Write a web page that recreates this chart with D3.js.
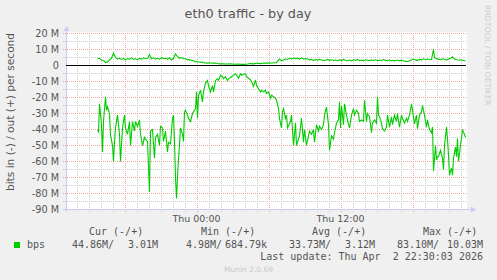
<!DOCTYPE html>
<html><head><meta charset="utf-8">
<script src="https://cdn.jsdelivr.net/npm/d3@7"></script>
<style>html,body{margin:0;padding:0;background:#F0F0F0;}svg{display:block;}</style>
</head><body>
<script>
// ---- DATA (values in Mbit/s; step = 5-minute sample index from window start) ----
const chartTitle = "eth0 traffic - by day";
const yAxisTitle = "bits in (-) / out (+) per second";
const windowStartUTC = Date.UTC(2026, 3, 1, 13, 10); // Wed 13:10
const windowSteps = 400; // 400 x 5 min
const yTicks = [20, 10, 0, -10, -20, -30, -40, -50, -60, -70, -80, -90];
const xLabelTimes = [Date.UTC(2026, 3, 2, 0, 0), Date.UTC(2026, 3, 2, 12, 0)];

const trafficIn = [
 [31,-40.4],[32,-41.5],[33,-24],[35,-37],[36,-54],[37,-35],[39,-19.6],[40,-28],[41,-25.8],[43,-30],
 [44,-43.5],[46,-50],[47,-60],[48,-48],[49,-39],[51,-31],[53,-43],[54,-60],[56,-39],[58,-31],
 [59,-39],[61,-43],[63,-35],[64,-50],[66,-35],[68,-41],[69,-35],[71,-38],[73,-34],[74,-43],
 [76,-50],[78,-45],[79,-46],[81,-47.5],[83,-79],[84,-41],[86,-40],[88,-58],[89,-45],[91,-43],
 [93,-50],[94,-38],[96,-39],[97,-47.5],[99,-41],[101,-54],[102,-48],[104,-49],[106,-33],[107,-31],
 [108,-47.5],[109,-70],[110,-83.1],[111,-70],[112,-58],[113,-50],[114,-39],[116,-43],[117,-47.5],[118,-29],
 [119,-28],[121,-31],[122,-33],[124,-35],[126,-30],[127,-29],[129,-27],[130,-16.5],[131,-33],[132,-19],
 [134,-15.4],[136,-22.7],[137,-16.5],[139,-11],[141,-9.4],[142,-12.5],[144,-16.5],[146,-12.5],[147,-16.5],[149,-9.4],
 [151,-8.3],[152,-9.4],[154,-6],[156,-7],[157,-8.3],[159,-7],[161,-9.4],[162,-8.3],[164,-7.5],[165,-7],
 [167,-6],[169,-4.98],[170,-6],[172,-8],[174,-5.2],[175,-6],[177,-5.5],[179,-5.1],[180,-7],[182,-8],
 [184,-9],[185,-10],[187,-13],[189,-9],[190,-12.5],[192,-14.5],[194,-16.5],[195,-15.5],[197,-16.5],[199,-15.5],
 [200,-17.5],[202,-16.5],[204,-20.6],[205,-18.5],[207,-19.5],[209,-20.6],[210,-21.5],[212,-27],[213,-33],[215,-39],
 [216,-29],[217,-27],[219,-33],[220,-31],[221,-39],[224,-35],[225,-31],[227,-50],[229,-36],[230,-50],
 [233,-44],[235,-33],[237,-48],[238,-40],[240,-50],[242,-44],[243,-41],[245,-43],[247,-40],[248,-48],
 [250,-37],[252,-41],[253,-38],[255,-40],[257,-37],[258,-31],[260,-26],[262,-37],[263,-53],[265,-44],
 [267,-46],[268,-42],[270,-36],[272,-34],[273,-22.7],[274,-39],[275,-25],[277,-37],[278,-24],[280,-31],
 [282,-37],[283,-39],[285,-31],[287,-27],[288,-31],[290,-28],[292,-30],[293,-35],[295,-34],[297,-35],
 [298,-21.7],[300,-35],[301,-30],[303,-32],[305,-42],[306,-36],[308,-34],[310,-36],[311,-19.6],[312,-31],
 [313,-32],[315,-36],[316,-39.5],[318,-41],[320,-38.5],[321,-31],[323,-38.5],[325,-32],[326,-37],[328,-31],
 [330,-35],[331,-30],[333,-38.5],[335,-31],[336,-33],[338,-36],[340,-33],[341,-35],[343,-31],[345,-24],
 [346,-28],[348,-36.5],[350,-31],[351,-39.5],[353,-31],[355,-29],[356,-25],[358,-31],[360,-38.5],[361,-34],
 [363,-40],[365,-42],[366,-38.5],[367,-66],[369,-50],[370,-59],[371,-57],[372,-57],[374,-53],[376,-58],
 [377,-65],[378,-50],[380,-38.5],[381,-46],[382,-56],[383,-68.5],[385,-64],[386,-68.5],[387,-58],[389,-51],
 [390,-57],[391,-45.6],[392,-60],[394,-50],[396,-40.4],[397,-41.5],[399,-44.86]
];

const trafficOut = [
 [31,4.2],[33,4.5],[35,3.5],[38,2.7],[39,1.8],[41,2.2],[43,3.5],[45,4.5],[47,7.7],[49,5],
 [51,4],[53,4.5],[55,3.8],[57,4.5],[59,3.5],[61,4.2],[63,4],[65,4.8],[67,3.8],[69,4.2],
 [71,3.5],[73,4.5],[75,4],[77,4.8],[79,4.2],[81,4.5],[83,6.7],[85,4.2],[87,4.8],[89,4],
 [91,4.5],[93,3.8],[95,5],[97,4.2],[99,4.5],[101,4],[103,4.8],[105,3.5],[107,4.5],[109,7.3],
 [111,5.5],[113,4.5],[115,5],[117,4.2],[119,4.2],[121,3.5],[123,3.6],[125,3.2],[127,3],[129,2.2],
 [131,2.5],[133,2],[135,2.2],[137,1.8],[139,1.6],[141,1.5],[143,1.7],[145,1.4],[147,1.5],[149,1.6],
 [151,1.2],[153,1],[156,1.1],[160,0.9],[164,1],[168,0.8],[172,0.9],[175,0.7],[178,0.68],[181,0.9],
 [184,1.2],[187,1.0],[190,1.4],[194,1.2],[198,1.6],[202,1.5],[206,1.6],[210,1.8],[213,4],[215,3],
 [217,3.5],[219,4.2],[221,3.8],[223,4.5],[225,4],[227,4.8],[229,4.2],[231,4.6],[233,3.9],[235,4.8],
 [237,4.0],[239,4.4],[241,4.1],[243,3.5],[245,3.8],[247,3.2],[249,3.7],[251,3.4],[253,3.9],[255,3.5],
 [257,3.0],[259,3.3],[261,3.8],[263,3.2],[265,3.6],[267,3.1],[269,3.4],[271,3.0],[273,3.5],[275,3.2],
 [277,3.8],[279,3.3],[281,3.0],[283,3.4],[285,2.9],[287,3.6],[289,3.2],[291,3.8],[293,3.0],[295,3.4],
 [297,2.9],[299,3.6],[301,3.3],[303,3.0],[305,3.5],[307,3.1],[309,3.6],[311,3.0],[313,3.4],[315,3.1],
 [317,3.7],[319,3.2],[321,3.0],[323,3.4],[325,2.8],[327,3.2],[329,3.0],[331,3.4],[333,2.9],[335,3.3],
 [337,3.0],[339,2.6],[341,2.5],[343,3.0],[345,3.6],[347,4.0],[349,3.5],[351,3.2],[353,3.8],[355,3.5],
 [357,4.2],[359,3.8],[361,4.0],[363,3.6],[365,3.8],[367,10.03],[368,5],[370,4.3],[372,4.0],[374,3.6],
 [376,4.2],[378,3.9],[380,3.3],[382,4.0],[384,4.5],[386,5.5],[388,4.0],[390,3.6],[392,3.4],[394,3.5],
 [396,3.3],[399,3.01]
];

const legendHeaders = ["Cur (-/+)", "Min (-/+)", "Avg (-/+)", "Max (-/+)"];
const legendSeriesName = "bps";
const legendValues = ["44.86M/", "3.01M", "4.98M/", "684.79k", "33.73M/", "3.12M", "83.10M/", "10.03M"];
const lastUpdateText = "Last update: Thu Apr  2 22:30:03 2026";
const watermarkText = "Munin 2.0.69";
const sideText = "RRDTOOL / TOBI OETIKER";

// ---- DRAW ----
const W = 497, H = 280;
const svg = d3.select("body").append("svg").attr("width", W).attr("height", H);
svg.append("rect").attr("width", W).attr("height", H).attr("fill", "#F0F0F0");

const stepMs = 5 * 60 * 1000;
const t0 = new Date(windowStartUTC), t1 = new Date(windowStartUTC + windowSteps * stepMs);
const x = d3.scaleUtc().domain([t0, t1]).range([66.5, 466.5]);
const y = d3.scaleLinear().domain([-90, 20]).range([209.5, 33.5]);

const plotL = 66, plotR = 467, plotT = 33, plotB = 209;
svg.append("rect").attr("x", plotL).attr("y", plotT - 1).attr("width", plotR - plotL).attr("height", plotB - plotT + 1).attr("fill", "#FFFFFF");

const gridMinor = "#CFCFCF", gridMajor = "#F3A0A0";
const g = svg.append("g");
// vertical minor (hourly) and major (6-hourly)
x.ticks(d3.utcHour.every(1)).forEach(t => {
  const major = t.getUTCHours() % 6 === 0;
  g.append("line").attr("x1", Math.round(x(t)) + 0.5).attr("x2", Math.round(x(t)) + 0.5)
    .attr("y1", plotT).attr("y2", plotB + 3)
    .attr("stroke", major ? gridMajor : gridMinor).attr("stroke-dasharray", "1,1");
});
// horizontal minor (5M) and major (10M)
d3.range(-90, 20.1, 5).forEach(v => {
  if (v === 0) return;
  const major = v % 10 === 0;
  g.append("line").attr("x1", plotL - 3).attr("x2", plotR - 1)
    .attr("y1", y(v)).attr("y2", y(v))
    .attr("stroke", major ? gridMajor : gridMinor).attr("stroke-dasharray", "1,1");
});

// axes (lavender)
const axisCol = "#C8CCF4";
svg.append("line").attr("x1", plotL + 0.5).attr("x2", plotL + 0.5).attr("y1", plotB + 3).attr("y2", 30).attr("stroke", axisCol);
svg.append("path").attr("d", `M${plotL - 2.5},31 L${plotL + 0.5},26 L${plotL + 3.5},31 Z`).attr("fill", axisCol);
svg.append("line").attr("x1", plotL - 3).attr("x2", 472).attr("y1", plotB + 0.5).attr("y2", plotB + 0.5).attr("stroke", axisCol);
svg.append("path").attr("d", `M471,${plotB - 2.5} L476,${plotB + 0.5} L471,${plotB + 3.5} Z`).attr("fill", axisCol);

// zero line
svg.append("line").attr("x1", plotL).attr("x2", plotR - 1).attr("y1", y(0)).attr("y2", y(0)).attr("stroke", "#000").attr("stroke-width", 1);

// series
const line = d3.line().x(d => x(new Date(windowStartUTC + d[0] * stepMs))).y(d => y(d[1]));
svg.append("path").datum(trafficIn).attr("d", line).attr("fill", "none").attr("stroke", "#00CC00").attr("stroke-width", 1.1);
svg.append("path").datum(trafficOut).attr("d", line).attr("fill", "none").attr("stroke", "#00CC00").attr("stroke-width", 1.1);

const txt = "#555555";
// y tick labels
svg.append("g").selectAll("text").data(yTicks).join("text")
  .attr("x", 59).attr("y", d => y(d)).attr("dy", "0.35em").attr("text-anchor", "end")
  .attr("font-family", "DejaVu Sans").attr("font-size", 9.7).attr("fill", txt)
  .text(d => d === 0 ? "0" : d + " M");

// x labels
const fmt = d3.utcFormat("%a %H:%M");
svg.append("g").selectAll("text").data(xLabelTimes).join("text")
  .attr("x", d => x(new Date(d))).attr("y", 221.5).attr("text-anchor", "middle")
  .attr("font-family", "DejaVu Sans").attr("font-size", 9.5).attr("fill", txt)
  .text(d => fmt(new Date(d)));

// title
svg.append("text").attr("x", 248).attr("y", 18).attr("text-anchor", "middle")
  .attr("font-family", "DejaVu Sans").attr("font-size", 12.8).attr("fill", txt).text(chartTitle);

// y axis title
svg.append("text").attr("transform", "translate(14,112) rotate(-90)").attr("text-anchor", "middle")
  .attr("font-family", "DejaVu Sans").attr("font-size", 10.6).attr("fill", txt).text(yAxisTitle);

// side watermark
svg.append("text").attr("transform", "translate(485,5) rotate(90)").attr("text-anchor", "start")
  .attr("font-family", "DejaVu Sans").attr("font-size", 7.8).attr("fill", "#CCCCCC").text(sideText);

// legend
const mono = "DejaVu Sans Mono";
const hx = [89, 201, 312, 423];
svg.append("g").selectAll("text").data(legendHeaders).join("text")
  .attr("x", (d, i) => hx[i]).attr("y", 235).attr("font-family", mono).attr("font-size", 10)
  .attr("fill", txt).attr("xml:space", "preserve").text(d => d);
svg.append("rect").attr("x", 14).attr("y", 242).attr("width", 6).attr("height", 6).attr("fill", "#00CC00");
svg.append("text").attr("x", 27).attr("y", 247.5).attr("font-family", mono).attr("font-size", 10).attr("fill", txt).text(legendSeriesName);
const vx = [72, 128, 186, 225, 289, 345, 397, 447];
svg.append("g").selectAll("text").data(legendValues).join("text")
  .attr("x", (d, i) => vx[i]).attr("y", 247.5).attr("font-family", mono).attr("font-size", 10)
  .attr("fill", txt).text(d => d);
svg.append("text").attr("x", 483).attr("y", 260).attr("text-anchor", "end").attr("xml:space", "preserve")
  .attr("font-family", mono).attr("font-size", 10).attr("fill", txt).text(lastUpdateText);
svg.append("text").attr("x", 248.5).attr("y", 271.5).attr("text-anchor", "middle")
  .attr("font-family", "DejaVu Sans").attr("font-size", 7.5).attr("fill", "#C8C8C8").text(watermarkText);
</script>
</body></html>
